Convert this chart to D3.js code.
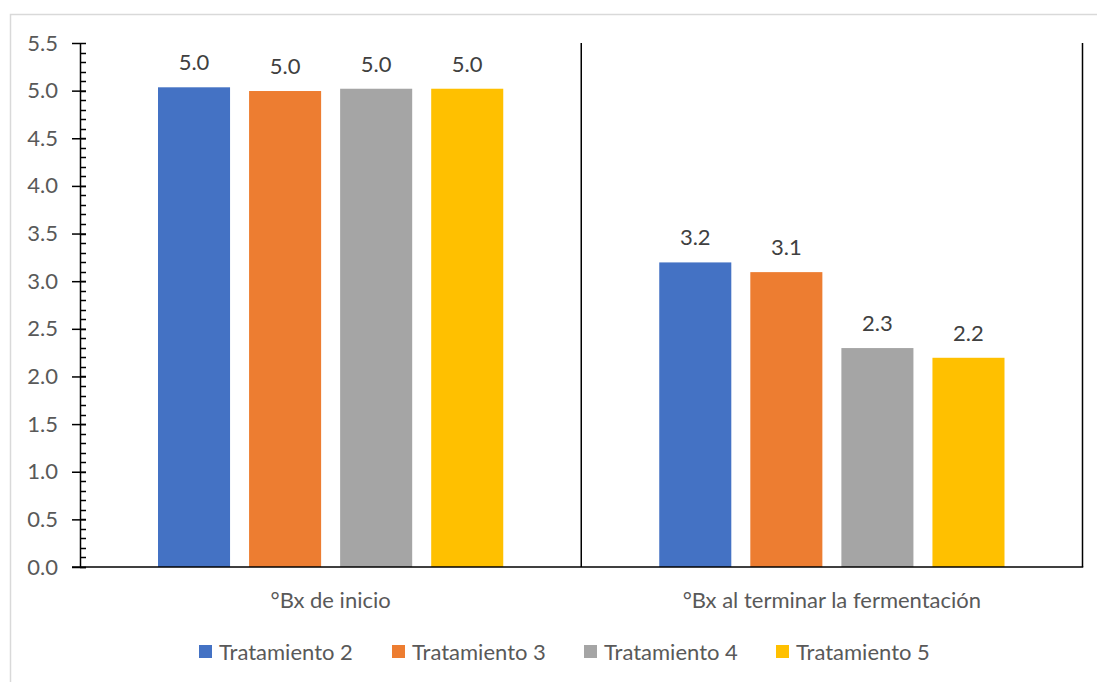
<!DOCTYPE html>
<html><head><meta charset="utf-8">
<script src="https://cdn.jsdelivr.net/npm/d3@7"></script>
<style>
html,body{margin:0;padding:0;background:#fff;}
svg{display:block;font-family:Lato,"Open Sans",sans-serif;}
</style></head>
<body>
<svg id="chart" width="1097" height="682"></svg>
<script>
const categories = ["°Bx de inicio", "°Bx al terminar la fermentación"];
const seriesNames = ["Tratamiento 2", "Tratamiento 3", "Tratamiento 4", "Tratamiento 5"];
const tratamiento2 = [5.035, 3.197];
const tratamiento3 = [4.996, 3.095];
const tratamiento4 = [5.02, 2.298];
const tratamiento5 = [5.02, 2.196];
const colors = ["#4472C4", "#ED7D31", "#A5A5A5", "#FFC000"];
const yTicks = [0, 0.5, 1, 1.5, 2, 2.5, 3, 3.5, 4, 4.5, 5, 5.5];

const seriesValues = [tratamiento2, tratamiento3, tratamiento4, tratamiento5];
const svg = d3.select("#chart");
const FS = 22;

// outer frame
svg.append("path").attr("d", "M10.5,682 L10.5,14.5 L1097,14.5")
  .attr("fill", "none").attr("stroke", "#d9d9d9").attr("stroke-width", 1.5);

const pLeft = 80, pRight = 1082.5, pTop = 43, pBottom = 567;
const x0 = d3.scaleBand().domain(categories).range([pLeft, pRight]).paddingInner(0).paddingOuter(0);
const x1 = d3.scaleBand().domain(seriesNames).range([78, x0.bandwidth() - 78]).paddingInner(19/91).paddingOuter(0);
const y = d3.scaleLinear().domain([0, 5.5]).range([pBottom, pTop]);

// bars
const groups = svg.append("g").selectAll("g").data(categories).join("g")
  .attr("transform", d => `translate(${x0(d)},0)`);
groups.each(function(cat, ci) {
  const g = d3.select(this);
  seriesNames.forEach((s, si) => {
    const v = seriesValues[si][ci];
    g.append("rect").attr("x", x1(s)).attr("y", y(v))
      .attr("width", x1.bandwidth()).attr("height", y(0) - y(v))
      .attr("fill", colors[si]);
    g.append("text").attr("x", x1(s) + x1.bandwidth()/2).attr("y", y(v) - 17)
      .attr("text-anchor", "middle").attr("font-size", FS).attr("fill", "#404040")
      .text(d3.format(".1f")(v));
  });
});

// separator lines (category boundaries)
svg.append("g").selectAll("line").data(categories.slice(1).concat(["__end"])).join("line")
  .attr("x1", (d) => d === "__end" ? pRight : x0(d)).attr("x2", (d) => d === "__end" ? pRight : x0(d))
  .attr("y1", pTop).attr("y2", pBottom)
  .attr("stroke", "#000").attr("stroke-width", 1.5);

// y axis minor ticks (inside)
const minor = d3.range(0, 55).map(i => i / 10);
svg.append("g").selectAll("line").data(minor).join("line")
  .attr("x1", pLeft).attr("x2", pLeft + 6)
  .attr("y1", d => Math.round(y(d)) + 0.5).attr("y2", d => Math.round(y(d)) + 0.5)
  .attr("stroke", "#000").attr("stroke-width", 1.5);

// y axis
const yAxis = d3.axisLeft(y).tickValues(yTicks).tickFormat(d3.format(".1f")).tickSizeInner(8).tickSizeOuter(0).tickPadding(14);
const ya = svg.append("g").attr("transform", `translate(${pLeft},0)`).call(yAxis);
ya.select(".domain").attr("stroke", "#000").attr("stroke-width", 1.5);
ya.selectAll(".tick line").attr("x2", 6).attr("x1", -8).attr("stroke", "#000").attr("stroke-width", 1.5);
ya.selectAll(".tick text").attr("font-size", FS).attr("fill", "#595959").attr("font-family", "Lato,'Open Sans',sans-serif");

// x axis line
svg.append("line").attr("x1", pLeft - 8).attr("x2", pRight + 0.75).attr("y1", pBottom).attr("y2", pBottom)
  .attr("stroke", "#000").attr("stroke-width", 1.5);

// category labels
svg.append("g").selectAll("text").data(categories).join("text")
  .attr("x", d => x0(d) + x0.bandwidth()/2).attr("y", 608)
  .attr("text-anchor", "middle").attr("font-size", FS).attr("fill", "#595959")
  .text(d => d);

// legend
const legendX = [199, 392, 584, 776];
const lg = svg.append("g").selectAll("g").data(seriesNames).join("g")
  .attr("transform", (d, i) => `translate(${legendX[i]},645)`);
lg.append("rect").attr("width", 13).attr("height", 13).attr("fill", (d, i) => colors[i]);
lg.append("text").attr("x", 20).attr("y", 14.5).attr("font-size", FS).attr("fill", "#595959").text(d => d);
</script>
</body></html>
